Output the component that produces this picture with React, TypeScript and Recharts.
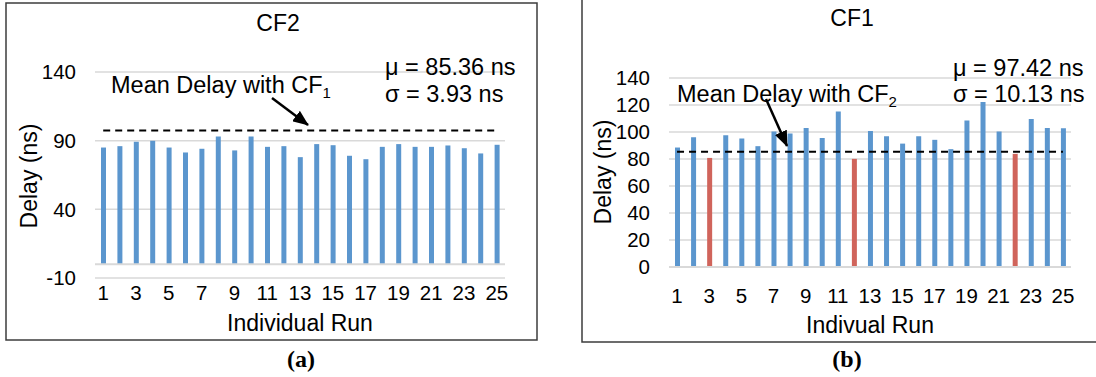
import React from "react";
import {
  BarChart,
  Bar,
  Cell,
  XAxis,
  YAxis,
  CartesianGrid,
  ReferenceLine,
} from "recharts";

// values
const runs = [
  "1", "2", "3", "4", "5", "6", "7", "8", "9", "10", "11", "12", "13",
  "14", "15", "16", "17", "18", "19", "20", "21", "22", "23", "24", "25",
];
const cf2Delay = [
  85.0, 86.0, 89.2, 89.9, 85.0, 81.4, 84.1, 93.0, 82.9, 93.0, 85.5, 86.0,
  78.0, 87.5, 86.7, 79.0, 76.5, 85.5, 87.5, 85.5, 85.5, 86.5, 84.5, 80.7, 87.0,
];
const cf1Delay = [
  88.5, 96.1, 80.8, 97.6, 95.1, 89.5, 100.3, 98.8, 103.0, 95.6, 115.1, 80.1,
  100.8, 96.9, 91.4, 96.9, 94.2, 87.3, 108.5, 122.3, 100.3, 83.8, 109.7, 103.0,
  102.8,
];
const cf1BelowCf2Mean = ["3", "12", "22"];
const cf2Ticks = [-10, 40, 90, 140];
const cf1Ticks = [0, 20, 40, 60, 80, 100, 120, 140];
const cf2Mean = 85.36;
const cf2Sd = 3.93;
const cf1Mean = 97.42;
const cf1Sd = 10.13;

const BLUE = "#5B96CE";
const RED = "#D0645B";
const GRID = "#D9D9D9";
const FONT = "'Liberation Sans', Arial, sans-serif";
const SERIF = "'Liberation Serif', 'Times New Roman', serif";

const tableData = runs.map((run, i) => ({
  run,
  cf2: cf2Delay[i],
  cf1: cf1Delay[i],
}));

const tickStyle = { fill: "#000", fontSize: 20.5, fontFamily: FONT };

const Overlay = () => (
  <svg
    width={1096}
    height={377}
    style={{ position: "absolute", left: 0, top: 0, pointerEvents: "none" }}
    fontFamily={FONT}
  >
    <defs>
      <marker
        id="head"
        viewBox="0 0 16 13"
        refX={15}
        refY={6.5}
        markerWidth={16}
        markerHeight={13}
        markerUnits="userSpaceOnUse"
        orient="auto"
      >
        <path d="M0,0 L16,6.5 L0,13 z" fill="#000" />
      </marker>
    </defs>

    {/* panel (a) */}
    <rect x={6} y={3} width={531} height={337} fill="none" stroke="#3c3c3c" strokeWidth={1.5} />
    <text x={278} y={31} fontSize={23} textAnchor="middle">CF2</text>
    <text transform="translate(37,176) rotate(-90)" fontSize={23} textAnchor="middle">
      Delay (ns)
    </text>
    <text x={300} y={331} fontSize={23} textAnchor="middle">Individual Run</text>
    <text x={111} y={93} fontSize={23.5}>
      Mean Delay with CF<tspan fontSize={15} dy={5}>1</tspan>
    </text>
    <text x={385} y={75} fontSize={23.5}>μ = {cf2Mean} ns</text>
    <text x={385} y={102} fontSize={23.5}>σ = {cf2Sd} ns</text>
    <line x1={272} y1={98} x2={308} y2={125} stroke="#000" strokeWidth={2.5} markerEnd="url(#head)" />
    <text x={301} y={367} fontSize={24} fontWeight="bold" textAnchor="middle" fontFamily={SERIF}>
      (a)
    </text>

    {/* panel (b) */}
    <path d="M582,0 L582,342 L1096,342" fill="none" stroke="#3c3c3c" strokeWidth={1.5} />
    <text x={852} y={26} fontSize={23} textAnchor="middle">CF1</text>
    <text transform="translate(611,172) rotate(-90)" fontSize={23} textAnchor="middle">
      Delay (ns)
    </text>
    <text x={870} y={333} fontSize={23} textAnchor="middle">Indivual Run</text>
    <text x={677} y={102} fontSize={23.5}>
      Mean Delay with CF<tspan fontSize={15} dy={5}>2</tspan>
    </text>
    <text x={953} y={76} fontSize={23.5}>μ = {cf1Mean} ns</text>
    <text x={953} y={102} fontSize={23.5}>σ = {cf1Sd} ns</text>
    <line x1={766} y1={99} x2={787} y2={146} stroke="#000" strokeWidth={2.5} markerEnd="url(#head)" />
    <text x={847} y={367} fontSize={24} fontWeight="bold" textAnchor="middle" fontFamily={SERIF}>
      (b)
    </text>
  </svg>
);

export default function App() {
  return (
    <div
      style={{
        position: "absolute",
        left: 0,
        top: 0,
        width: 1096,
        height: 377,
        overflow: "hidden",
        background: "#fff",
        fontFamily: FONT,
      }}
    >
      <div style={{ position: "absolute", left: 0, top: 0 }}>
        <BarChart
          width={560}
          height={377}
          data={tableData}
          margin={{ top: 72, right: 55, left: 35, bottom: 69 }}
        >
          <CartesianGrid vertical={false} stroke={GRID} strokeWidth={1.5} />
          <XAxis
            dataKey="run"
            interval={1}
            height={30}
            tickLine={false}
            axisLine={false}
            tickSize={0}
            tickMargin={7}
            tick={tickStyle}
          />
          <YAxis
            width={60}
            domain={[-10, 140]}
            ticks={cf2Ticks}
            interval={0}
            tickLine={false}
            axisLine={false}
            tickSize={0}
            tickMargin={19}
            tick={tickStyle}
          />
          <ReferenceLine y={0} stroke={GRID} strokeWidth={2} />
          <Bar dataKey="cf2" fill={BLUE} barSize={5} isAnimationActive={false} />
          <ReferenceLine
            segment={[
              { x: runs[0], y: cf1Mean },
              { x: runs[runs.length - 1], y: cf1Mean },
            ]}
            stroke="#000"
            strokeWidth={2}
            strokeDasharray="7 5"
          />
        </BarChart>
      </div>

      <div style={{ position: "absolute", left: 560, top: 0 }}>
        <BarChart
          width={536}
          height={377}
          data={tableData}
          margin={{ top: 78, right: 25, left: 49, bottom: 80 }}
        >
          <CartesianGrid vertical={false} stroke={GRID} strokeWidth={1.5} />
          <XAxis
            dataKey="run"
            interval={1}
            height={30}
            tickLine={false}
            axisLine={{ stroke: GRID, strokeWidth: 2 }}
            tickSize={0}
            tickMargin={21}
            tick={tickStyle}
          />
          <YAxis
            width={60}
            domain={[0, 140]}
            ticks={cf1Ticks}
            interval={0}
            tickLine={false}
            axisLine={false}
            tickSize={0}
            tickMargin={19}
            tick={tickStyle}
          />
          <Bar dataKey="cf1" barSize={5} isAnimationActive={false}>
            {tableData.map((d) => (
              <Cell
                key={d.run}
                fill={cf1BelowCf2Mean.includes(d.run) ? RED : BLUE}
              />
            ))}
          </Bar>
          <ReferenceLine
            segment={[
              { x: runs[0], y: cf2Mean },
              { x: runs[runs.length - 1], y: cf2Mean },
            ]}
            stroke="#000"
            strokeWidth={2}
            strokeDasharray="7 5"
          />
        </BarChart>
      </div>

      <Overlay />
    </div>
  );
}
